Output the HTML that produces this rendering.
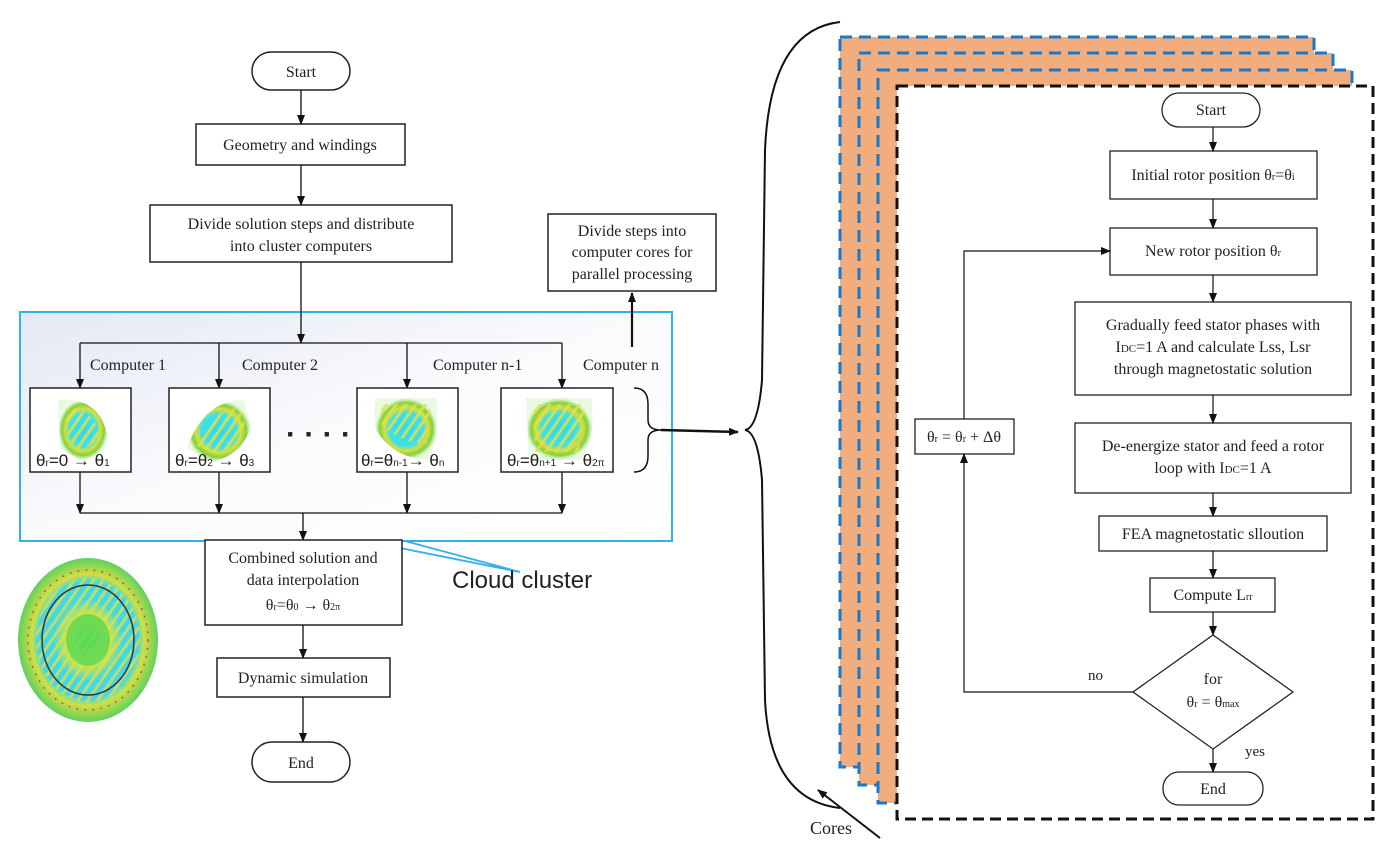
<!DOCTYPE html>
<html><head><meta charset="utf-8"><style>
body{margin:0;background:#fff}
svg{font-family:"Liberation Serif",serif;font-size:16px}
text{fill:#222}
.c{text-anchor:middle}
</style></head><body>
<svg width="1392" height="842" viewBox="0 0 1392 842" xmlns="http://www.w3.org/2000/svg" font-size="16">
<defs>
<marker id="a" markerWidth="10" markerHeight="10" refX="9" refY="5" orient="auto" markerUnits="userSpaceOnUse"><path d="M0,1 L10,5 L0,9 z" fill="#111"/></marker>
<linearGradient id="cl" x1="0" y1="0" x2="1" y2="1"><stop offset="0" stop-color="#e4e8f4"/><stop offset="0.5" stop-color="#fafbfd"/><stop offset="1" stop-color="#ffffff"/></linearGradient>
<radialGradient id="fe" cx="0.5" cy="0.5" r="0.5"><stop offset="0" stop-color="#2fd8f0"/><stop offset="0.55" stop-color="#3fe0e8"/><stop offset="0.7" stop-color="#d8e040"/><stop offset="0.85" stop-color="#80d040"/><stop offset="1" stop-color="#b8f0a0" stop-opacity="0.3"/></radialGradient>
<radialGradient id="big" cx="0.5" cy="0.5" r="0.5"><stop offset="0" stop-color="#58d858"/><stop offset="0.3" stop-color="#d8e838"/><stop offset="0.5" stop-color="#40d8e8"/><stop offset="0.72" stop-color="#48d8e0"/><stop offset="0.8" stop-color="#d0e040"/><stop offset="1" stop-color="#60d060"/></radialGradient>
<pattern id="st" width="8" height="8" patternUnits="userSpaceOnUse" patternTransform="rotate(35)"><rect width="3" height="8" fill="#e8e040"/></pattern>
</defs>

<!-- Left flowchart -->
<g stroke="#222" stroke-width="1.5" fill="#fff">
<rect x="252" y="52" width="98" height="38" rx="19"/>
<rect x="196" y="124" width="209" height="41"/>
<rect x="150" y="205" width="302" height="57"/>
<rect x="548" y="214" width="168" height="77"/>
</g>
<text class="c" x="301" y="77">Start</text>
<text class="c" x="300" y="150">Geometry and windings</text>
<text class="c" x="301" y="229">Divide solution steps and distribute</text>
<text class="c" x="301" y="251">into cluster computers</text>
<text class="c" x="632" y="236">Divide steps into</text>
<text class="c" x="632" y="257">computer cores for</text>
<text class="c" x="632" y="279">parallel processing</text>
<g stroke="#111" stroke-width="1.3" fill="none">
<line x1="301" y1="90" x2="301" y2="124" marker-end="url(#a)"/>
<line x1="301" y1="165" x2="301" y2="205" marker-end="url(#a)"/>
</g>

<!-- cloud cluster -->
<rect x="20" y="312" width="652" height="229" fill="url(#cl)" stroke="#30b0f0" stroke-width="2"/>
<g stroke="#111" stroke-width="1.3" fill="none">
<line x1="301" y1="262" x2="301" y2="343" marker-end="url(#a)"/>
<line x1="80" y1="343" x2="562" y2="343"/>
<line x1="80" y1="343" x2="80" y2="388" marker-end="url(#a)"/>
<line x1="219" y1="343" x2="219" y2="388" marker-end="url(#a)"/>
<line x1="407" y1="343" x2="407" y2="388" marker-end="url(#a)"/>
<line x1="562" y1="343" x2="562" y2="388" marker-end="url(#a)"/>
<line x1="80" y1="472" x2="80" y2="513" marker-end="url(#a)"/>
<line x1="219" y1="472" x2="219" y2="513" marker-end="url(#a)"/>
<line x1="407" y1="472" x2="407" y2="513" marker-end="url(#a)"/>
<line x1="562" y1="472" x2="562" y2="513" marker-end="url(#a)"/>
<line x1="80" y1="513" x2="562" y2="513"/>
<line x1="303" y1="513" x2="303" y2="540" marker-end="url(#a)"/>
<line x1="632" y1="347" x2="632" y2="293" stroke-width="2.2" marker-end="url(#a)"/>
</g>
<text x="90" y="370">Computer 1</text>
<text x="242" y="370">Computer 2</text>
<text x="433" y="370">Computer n-1</text>
<text x="583" y="370">Computer n</text>

<g>
<g transform="translate(30,388)">
<rect width="101" height="84" fill="#fff" stroke="#222" stroke-width="1.5"/>
<path d="M28,12 Q70,8 78,50 Q72,70 50,72 L30,60 Z" fill="url(#fe)"/><path d="M36,20 Q64,18 70,50 L50,64 L38,50 Z" fill="url(#st)" opacity="0.8"/>
<text x="6" y="78" font-family="Liberation Sans" style="font-size:17px">θ<tspan style="font-size:10px">r</tspan>=0 → θ<tspan style="font-size:10px">1</tspan></text>
</g>
<g transform="translate(169,388)">
<rect width="101" height="84" fill="#fff" stroke="#222" stroke-width="1.5"/>
<path d="M75,12 Q35,12 18,60 L40,74 Q70,70 82,40 Z" fill="url(#fe)"/><path d="M70,20 Q40,22 28,58 L50,66 Q70,54 76,36 Z" fill="url(#st)" opacity="0.8"/>
<text x="6" y="78" font-family="Liberation Sans" style="font-size:17px">θ<tspan style="font-size:10px">r</tspan>=θ<tspan style="font-size:10px">2</tspan> → θ<tspan style="font-size:10px">3</tspan></text>
</g>
<g transform="translate(357,388)">
<rect width="101" height="84" fill="#fff" stroke="#222" stroke-width="1.5"/>
<path d="M18,10 L80,10 Q82,50 72,72 Q35,70 18,40 Z" fill="url(#fe)"/><path d="M24,16 L74,16 L70,56 Q40,54 24,36 Z" fill="url(#st)" opacity="0.8"/>
<text x="4" y="78" font-family="Liberation Sans" style="font-size:17px">θ<tspan style="font-size:10px">r</tspan>=θ<tspan style="font-size:10px">n-1</tspan>→ θ<tspan style="font-size:10px">n</tspan></text>
</g>
<g transform="translate(501,388)">
<rect width="112" height="84" fill="#fff" stroke="#222" stroke-width="1.5"/>
<path d="M25,10 L90,10 Q96,50 80,72 L28,72 Z" fill="url(#fe)"/><path d="M32,16 L84,16 L78,64 L34,64 Z" fill="url(#st)" opacity="0.8"/>
<text x="6" y="78" font-family="Liberation Sans" style="font-size:17px">θ<tspan style="font-size:10px">r</tspan>=θ<tspan style="font-size:10px">n+1</tspan> → θ<tspan style="font-size:10px">2π</tspan></text>
</g>
</g>
<text x="286" y="444" font-family="Liberation Sans" style="font-size:30px;font-weight:bold" fill="#111">· · · ·</text>
<path d="M634,388 Q648,388 648,404 L648,420 Q648,430 661,430 Q648,430 648,440 L648,456 Q648,472 634,472" fill="none" stroke="#111" stroke-width="1.5"/>
<line x1="661" y1="430" x2="738" y2="432" stroke="#111" stroke-width="2.5" marker-end="url(#a)"/>

<!-- cloud cluster callout -->
<polyline points="365,541 520,572 405,541" fill="none" stroke="#30b0f0" stroke-width="1.8"/>
<text x="452" y="588" font-family="Liberation Sans" style="font-size:24px">Cloud cluster</text>

<g stroke="#222" stroke-width="1.5" fill="#fff">
<rect x="205" y="540" width="197" height="85"/>
<rect x="217" y="658" width="173" height="39"/>
<rect x="252" y="742" width="98" height="40" rx="20"/>
</g>
<text class="c" x="303" y="563">Combined solution and</text>
<text class="c" x="303" y="585">data interpolation</text>
<text class="c" x="303" y="610">θ<tspan style="font-size:10px">r</tspan>=θ<tspan style="font-size:10px">0</tspan> → θ<tspan style="font-size:10px">2π</tspan></text>
<text class="c" x="303" y="683">Dynamic simulation</text>
<text class="c" x="301" y="768">End</text>
<g stroke="#111" stroke-width="1.3"><line x1="303" y1="625" x2="303" y2="658" marker-end="url(#a)"/><line x1="303" y1="697" x2="303" y2="742" marker-end="url(#a)"/></g>

<!-- big rotor -->
<ellipse cx="88" cy="640" rx="70" ry="82" fill="url(#big)"/>
<ellipse cx="88" cy="640" rx="52" ry="62" fill="url(#st)" opacity="0.7"/>
<ellipse cx="88" cy="640" rx="46" ry="55" fill="none" stroke="#334" stroke-width="1.5"/>
<ellipse cx="88" cy="640" rx="60" ry="70" fill="none" stroke="#e04050" stroke-width="1.5" stroke-dasharray="2 6"/>
<ellipse cx="88" cy="640" rx="22" ry="26" fill="#58d858" opacity="0.8"/>

<!-- big brace and Cores -->
<path d="M840,22 Q770,30 765,150 L762,380 Q758,428 745,430 Q758,432 762,480 L765,700 Q770,800 840,808" fill="none" stroke="#111" stroke-width="2"/>
<line x1="880" y1="838" x2="818" y2="790" stroke="#111" stroke-width="2" marker-end="url(#a)"/>
<text x="810" y="834" style="font-size:18px">Cores</text>

<!-- core layers -->
<g stroke="#1a78c8" stroke-width="3" stroke-dasharray="12 7" fill="#f2ad7e">
<rect x="840" y="37" width="474" height="730"/>
<rect x="859" y="53" width="474" height="732"/>
<rect x="878" y="70" width="474" height="733"/>
</g>
<rect x="897" y="86" width="476" height="733" fill="#fff" stroke="#111" stroke-width="3" stroke-dasharray="11 6"/>

<!-- right flowchart -->
<g stroke="#222" stroke-width="1.3" fill="#fff">
<rect x="1162" y="93" width="98" height="34" rx="17"/>
<rect x="1110" y="151" width="207" height="48"/>
<rect x="1110" y="228" width="207" height="47"/>
<rect x="1075" y="302" width="276" height="93"/>
<rect x="1075" y="423" width="276" height="70"/>
<rect x="1099" y="516" width="228" height="35"/>
<rect x="1150" y="578" width="125" height="34"/>
<polygon points="1213,635 1293,692 1213,749 1133,692"/>
<rect x="1163" y="772" width="100" height="33" rx="16"/>
<rect x="915" y="419" width="99" height="35"/>
</g>
<text class="c" x="1211" y="115">Start</text>
<text class="c" x="1213" y="180">Initial rotor position θ<tspan style="font-size:10px">r</tspan>=θ<tspan style="font-size:10px">i</tspan></text>
<text class="c" x="1213" y="256">New rotor position θ<tspan style="font-size:10px">r</tspan></text>
<text class="c" x="1213" y="330">Gradually feed stator phases with</text>
<text class="c" x="1213" y="352">I<tspan style="font-size:11px">DC</tspan>=1 A and calculate Lss, Lsr</text>
<text class="c" x="1213" y="374">through magnetostatic solution</text>
<text class="c" x="1213" y="451">De-energize stator and feed a rotor</text>
<text class="c" x="1213" y="473">loop with I<tspan style="font-size:11px">DC</tspan>=1 A</text>
<text class="c" x="1213" y="539">FEA magnetostatic slloution</text>
<text class="c" x="1213" y="600">Compute L<tspan style="font-size:10px">rr</tspan></text>
<text class="c" x="1213" y="684">for</text>
<text class="c" x="1213" y="707">θ<tspan style="font-size:10px">r</tspan> = θ<tspan style="font-size:10px">max</tspan></text>
<text class="c" x="1213" y="794">End</text>
<text class="c" x="964" y="442">θ<tspan style="font-size:10px">r</tspan> = θ<tspan style="font-size:10px">r</tspan> + Δθ</text>
<text x="1088" y="680" style="font-size:15px">no</text>
<text x="1245" y="756" style="font-size:15px">yes</text>
<g stroke="#111" stroke-width="1.2" fill="none">
<line x1="1213" y1="127" x2="1213" y2="151" marker-end="url(#a)"/>
<line x1="1213" y1="199" x2="1213" y2="228" marker-end="url(#a)"/>
<line x1="1213" y1="275" x2="1213" y2="302" marker-end="url(#a)"/>
<line x1="1213" y1="395" x2="1213" y2="423" marker-end="url(#a)"/>
<line x1="1213" y1="493" x2="1213" y2="516" marker-end="url(#a)"/>
<line x1="1213" y1="551" x2="1213" y2="578" marker-end="url(#a)"/>
<line x1="1213" y1="612" x2="1213" y2="635" marker-end="url(#a)"/>
<line x1="1213" y1="749" x2="1213" y2="772" marker-end="url(#a)"/>
<polyline points="1133,692 964,692 964,454" marker-end="url(#a)"/>
<polyline points="964,419 964,251 1110,251" marker-end="url(#a)"/>
</g>
</svg>
</body></html>
